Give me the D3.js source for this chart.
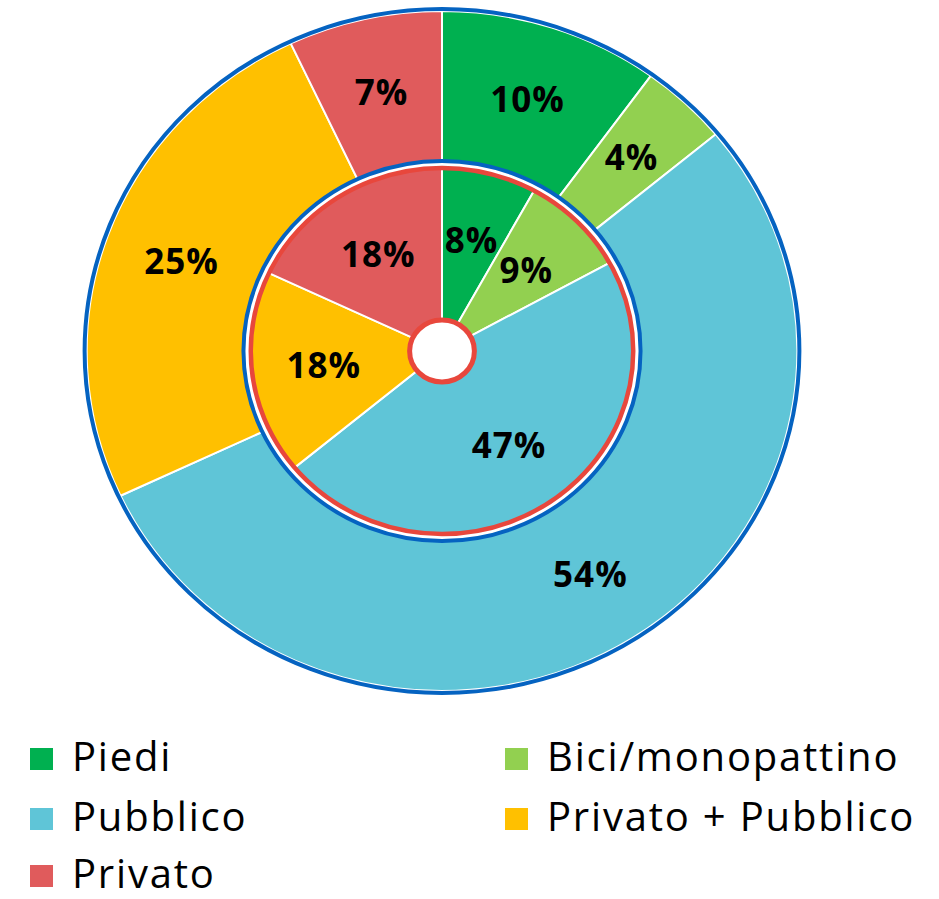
<!DOCTYPE html>
<html>
  <head>
    <meta charset="utf-8">
    <title>Mezzi di trasporto</title>
<style>
body { margin: 0; background: #fff; }
.lbl { font: bold 35px "Open Sans", sans-serif; fill: #000; letter-spacing: 1px; }
.leg { font: 40px "Open Sans", sans-serif; fill: #000; letter-spacing: 1.8px; }
</style>
	<script src="https://d3js.org/d3.v7.min.js"></script>
  </head>
  <body>
	<script type="text/javascript">

		// categories and values (percent)
		var categories = ["Piedi", "Bici/monopattino", "Pubblico", "Privato + Pubblico", "Privato"];
		var outerValues = [10, 4, 54, 25, 7];
		var innerValues = [8, 9, 47, 18, 18];
		var colors = ["#00b050", "#92d050", "#5fc5d7", "#ffc000", "#e05b5c"];

		var width = 939, height = 899;
		var cx = 442, cy = 351, sx = 1.045;

		var svg = d3.select("body").append("svg")
			.attr("width", width)
			.attr("height", height);

		var pie = d3.pie().sort(null).value(function(d) { return d; });
		var color = d3.scaleOrdinal().domain(d3.range(5)).range(colors);

		var outerArc = d3.arc().innerRadius(190).outerRadius(340);
		var innerArc = d3.arc().innerRadius(31).outerRadius(183);
		var innerLabelArc = d3.arc().innerRadius(38).outerRadius(190);

		// pie group, slightly stretched horizontally like the original
		var g = svg.append("g")
			.attr("transform", "translate(" + cx + "," + cy + ") scale(" + sx + ",1)");

		g.selectAll("path.outer")
			.data(pie(outerValues))
			.enter().append("path")
			.attr("class", "outer")
			.attr("d", outerArc)
			.attr("fill", function(d, i) { return color(i); })
			.attr("stroke", "#fff")
			.attr("stroke-width", 2)
			.attr("vector-effect", "non-scaling-stroke");

		g.selectAll("path.inner")
			.data(pie(innerValues))
			.enter().append("path")
			.attr("class", "inner")
			.attr("d", innerArc)
			.attr("fill", function(d, i) { return color(i); })
			.attr("stroke", "#fff")
			.attr("stroke-width", 2)
			.attr("vector-effect", "non-scaling-stroke");

		// rings
		function ring(r, col, w, fill) {
			g.append("circle")
				.attr("r", r)
				.attr("fill", fill || "none")
				.attr("stroke", col)
				.attr("stroke-width", w)
				.attr("vector-effect", "non-scaling-stroke");
		}
		ring(342, "#0563c1", 4);
		ring(190, "#0563c1", 4);
		ring(183, "#e8473c", 4.5);
		ring(31, "#e8473c", 5, "#fff");

		// labels
		var labels = svg.append("g");
		function place(arc) {
			return function(d) {
				var c = arc.centroid(d);
				return "translate(" + (cx + c[0] * sx) + "," + (cy + c[1]) + ")";
			};
		}
		labels.selectAll("text.o")
			.data(pie(outerValues))
			.enter().append("text")
			.attr("class", "lbl")
			.attr("transform", place(outerArc))
			.attr("text-anchor", "middle")
			.attr("dy", "0.36em")
			.text(function(d) { return d.data + "%"; });

		labels.selectAll("text.i")
			.data(pie(innerValues))
			.enter().append("text")
			.attr("class", "lbl")
			.attr("transform", place(innerLabelArc))
			.attr("text-anchor", "middle")
			.attr("dy", "0.36em")
			.text(function(d) { return d.data + "%"; });

		// legend: two columns
		var legX = [30, 505], legY = [759, 819, 876];
		var leg = svg.append("g").selectAll("g")
			.data(categories)
			.enter().append("g")
			.attr("transform", function(d, i) {
				return "translate(" + legX[i % 2] + "," + legY[Math.floor(i / 2)] + ")";
			});
		leg.append("rect")
			.attr("x", 0).attr("y", -11)
			.attr("width", 23).attr("height", 22)
			.attr("fill", function(d, i) { return color(i); });
		leg.append("text")
			.attr("class", "leg")
			.attr("x", 42)
			.attr("y", 12)
			.text(function(d) { return d; });

    </script>
  </body>
</html>
